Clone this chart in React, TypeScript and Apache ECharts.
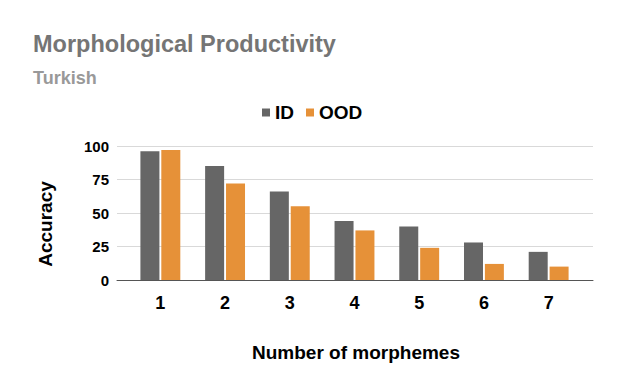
import React, { useEffect, useRef } from "react";
import * as echarts from "echarts";

const categories = ["1", "2", "3", "4", "5", "6", "7"];
const idValues = [96, 85, 66, 44, 40, 28, 21];
const oodValues = [97, 72, 55, 37, 24, 12, 10];
const yTicks = [0, 25, 50, 75, 100];

const FONT = "'Liberation Sans', Arial, sans-serif";

export default function App() {
  const ref = useRef<HTMLDivElement>(null);
  useEffect(() => {
    if (!ref.current) return;
    const chart = echarts.init(ref.current, null, { renderer: "svg" });
    const yMin = yTicks[0];
    const yMax = yTicks[yTicks.length - 1];
    const yInt = yTicks[1] - yTicks[0];
    chart.setOption({
      animation: false,
      backgroundColor: "#ffffff",
      textStyle: { fontFamily: FONT },
      title: [
        {
          text: "Morphological Productivity",
          left: 33,
          top: 32,
          padding: 0,
          textStyle: { fontSize: 23.5, fontWeight: "bold", color: "#757575", fontFamily: FONT },
        },
        {
          text: "Turkish",
          left: 33,
          top: 69,
          padding: 0,
          textStyle: { fontSize: 18, fontWeight: "bold", color: "#999999", fontFamily: FONT },
        },
      ],
      legend: {
        left: 262,
        top: 103,
        padding: 0,
        icon: "rect",
        itemWidth: 8,
        itemHeight: 8,
        itemGap: 12,
        textStyle: { fontSize: 19, fontWeight: "bold", color: "#000", fontFamily: FONT },
        data: ["ID", "OOD"],
      },
      grid: [
        { left: 117, right: 26, top: 146, bottom: 102 },
        { left: 128, right: 38, top: 146, bottom: 102 },
      ],
      xAxis: [
        {
          type: "category",
          gridIndex: 0,
          data: categories,
          axisLine: { show: true, lineStyle: { color: "#555", width: 1 } },
          axisTick: { show: false },
          axisLabel: { show: false },
          splitLine: { show: false },
        },
        {
          type: "category",
          gridIndex: 1,
          data: categories,
          axisLine: { show: false },
          axisTick: { show: false },
          axisLabel: {
            margin: 14,
            fontSize: 18,
            fontWeight: "bold",
            color: "#000",
            fontFamily: FONT,
          },
        },
      ],
      yAxis: [
        {
          type: "value",
          gridIndex: 0,
          min: yMin,
          max: yMax,
          interval: yInt,
          axisLine: { show: false },
          axisTick: { show: false },
          axisLabel: {
            margin: 8,
            fontSize: 15,
            fontWeight: "bold",
            color: "#000",
            fontFamily: FONT,
          },
          splitLine: { show: true, lineStyle: { color: "#d9d9d9", width: 1 } },
        },
        {
          type: "value",
          gridIndex: 1,
          min: yMin,
          max: yMax,
          interval: yInt,
          show: false,
          splitLine: { show: false },
        },
      ],
      graphic: [
        {
          type: "text",
          x: 45,
          y: 224,
          rotation: Math.PI / 2,
          style: {
            text: "Accuracy",
            fontSize: 19,
            fontWeight: "bold",
            fill: "#000",
            fontFamily: FONT,
            textAlign: "center",
            textVerticalAlign: "middle",
          },
        },
        {
          type: "text",
          x: 356,
          y: 352,
          style: {
            text: "Number of morphemes",
            fontSize: 19,
            fontWeight: "bold",
            fill: "#000",
            fontFamily: FONT,
            textAlign: "center",
            textVerticalAlign: "middle",
          },
        },
      ],
      series: [
        {
          name: "ID",
          type: "bar",
          xAxisIndex: 1,
          yAxisIndex: 1,
          data: idValues,
          barWidth: 19,
          barGap: "10%",
          itemStyle: { color: "#666666" },
        },
        {
          name: "OOD",
          type: "bar",
          xAxisIndex: 1,
          yAxisIndex: 1,
          data: oodValues,
          barWidth: 19,
          barGap: "10%",
          itemStyle: { color: "#e69138" },
        },
      ],
    });
    return () => chart.dispose();
  }, []);
  return <div ref={ref} style={{ width: 619, height: 382, position: "absolute", left: 0, top: 0 }} />;
}
